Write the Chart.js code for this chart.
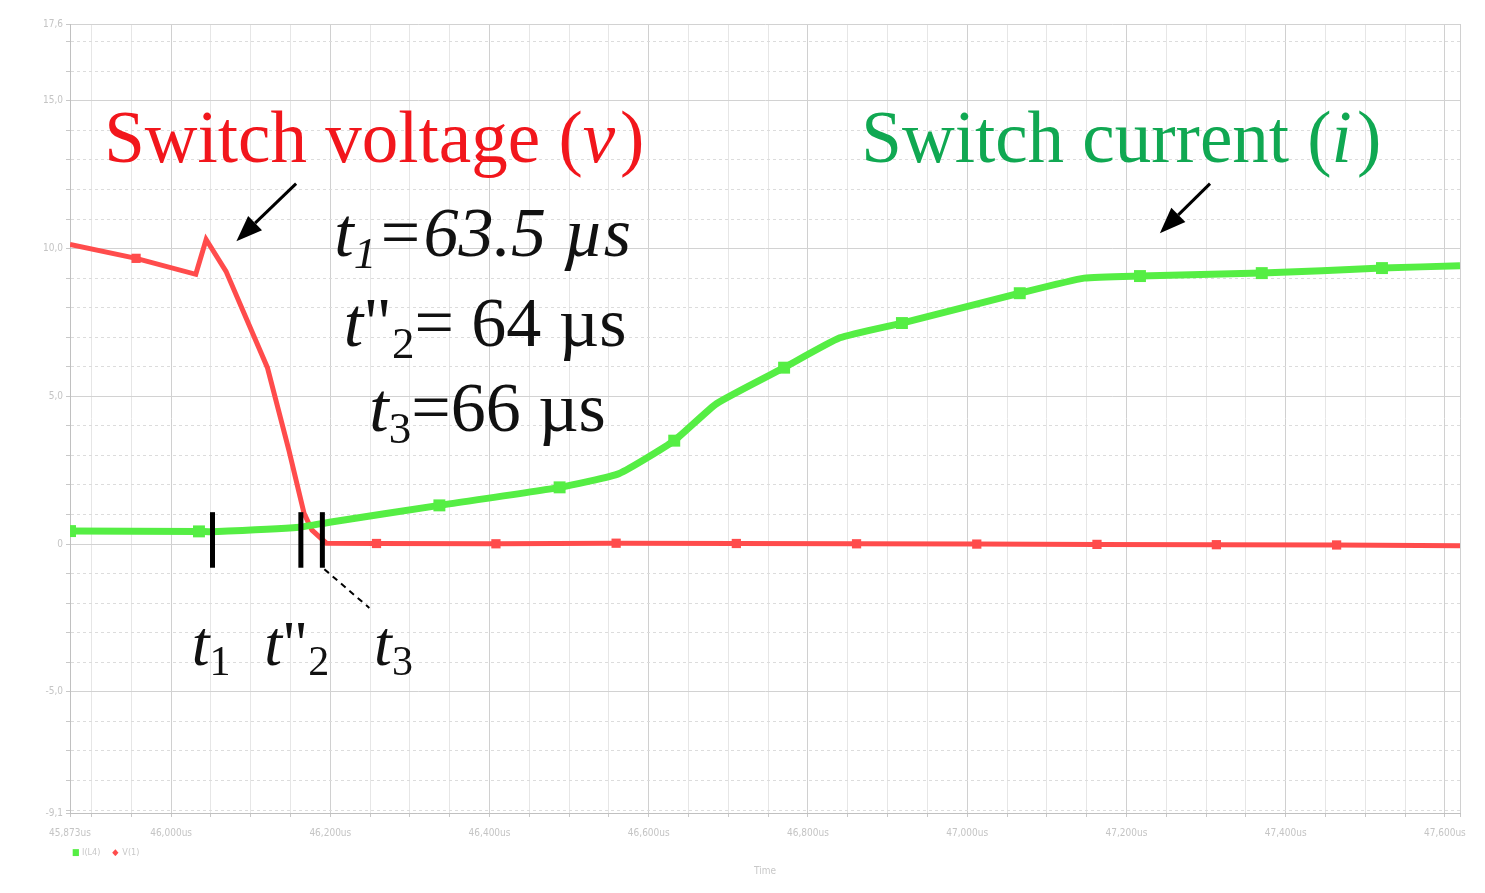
<!DOCTYPE html>
<html lang="en">
<head>
  <meta charset="UTF-8">
  <title>Switch voltage and current</title>
  <script src="https://cdn.jsdelivr.net/npm/chart.js"></script>
  <style>
    html, body { margin: 0; padding: 0; background: #fff; }
    #wrap { width: 1485px; height: 893px; }
  </style>
</head>
<body>
  <div id="wrap"><canvas id="waveChart"></canvas></div>

  <script>
    // switch voltage, time in us
    const voltTime = [45.873, 45.956, 46.031, 46.044, 46.069, 46.121, 46.148, 46.167, 46.177, 46.195,
                      46.258, 46.408, 46.559, 46.710, 46.861, 47.012, 47.163, 47.313, 47.464, 47.619];
    const voltValues = [10.14, 9.67, 9.13, 10.31, 9.23, 5.97, 3.17, 1.04, 0.47, 0.03,
                        0.02, 0.01, 0.03, 0.02, 0.01, 0.0, -0.01, -0.02, -0.03, -0.06];

    // switch current
    const curTime = [45.873, 46.035, 46.052, 46.161, 46.199, 46.337, 46.488, 46.563, 46.632, 46.685,
                     46.770, 46.840, 46.918, 47.066, 47.147, 47.217, 47.370, 47.521, 47.619];
    const curValues = [0.44, 0.43, 0.42, 0.57, 0.74, 1.31, 1.92, 2.39, 3.50, 4.75,
                       5.97, 6.98, 7.48, 8.49, 9.00, 9.07, 9.17, 9.34, 9.42];

    const seriesNames = ['I(L4)', 'V(1)'];

    const xMin = 45.873, xMax = 47.619;
    const yMin = -9.1, yMax = 17.6;
    const xTickValues = [45.873, 46.0, 46.2, 46.4, 46.6, 46.8, 47.0, 47.2, 47.4, 47.6];
    const xTickLabels = ['45,873us', '46,000us', '46,200us', '46,400us', '46,600us', '46,800us',
                         '47,000us', '47,200us', '47,400us', '47,600us'];
    const yTickValues = [-9.1, -5, 0, 5, 10, 15, 17.6];
    const yTickLabels = ['-9,1', '-5,0', '0', '5,0', '10,0', '15,0', '17,6'];

    // marked instants (us)
    const t1 = 46.052, t2 = 46.163, t3 = 46.190;

    const near = (a, b) => Math.abs(a - b) < 1e-6;
    function labelFor(vals, labels, v) {
      const i = vals.findIndex(t => near(t, v));
      return i < 0 ? '' : labels[i];
    }

    // grid positions
    const xGrid = [xMin];
    for (let k = 0; k <= 34; k++) xGrid.push(Math.round((45.9 + 0.05 * k) * 1000) / 1000);
    xGrid.push(xMax);
    const yGrid = [yMin];
    for (let v = -9; v <= 17; v++) yGrid.push(v);
    yGrid.push(yMax);

    const isMajorX = v => near(v, xMin) || near(v, xMax) || Math.abs(Math.round(v * 5) - v * 5) < 1e-6;
    const isMajorY = v => near(v, yMin) || near(v, yMax) || v % 5 === 0;

    const redMarks = new Set([1, 10, 11, 12, 13, 14, 15, 16, 17, 18]);
    const greenMarks = new Set([0, 1, 5, 6, 8, 10, 12, 13, 15, 16, 17]);

    const serif = '"Liberation Serif", "Times New Roman", serif';
    const tickFont = '"Liberation Sans Narrow", "DejaVu Sans Condensed", sans-serif';

    // text in pieces with different fonts / offsets
    function drawRuns(ctx, x, y, runs, color) {
      ctx.fillStyle = color;
      ctx.textBaseline = 'alphabetic';
      ctx.textAlign = 'left';
      runs.forEach(r => {
        ctx.font = r.f;
        ctx.fillText(r.t, x, y + (r.dy || 0));
        x += ctx.measureText(r.t).width + (r.gap || 0);
      });
    }

    function arrow(ctx, x0, y0, x1, y1) {
      const a = Math.atan2(y1 - y0, x1 - x0);
      const len = 26, w = 10;
      const bx = x1 - len * Math.cos(a), by = y1 - len * Math.sin(a);
      ctx.beginPath();
      ctx.moveTo(x0, y0);
      ctx.lineTo(bx, by);
      ctx.stroke();
      ctx.beginPath();
      ctx.moveTo(x1, y1);
      ctx.lineTo(bx + w * Math.sin(a), by - w * Math.cos(a));
      ctx.lineTo(bx - w * Math.sin(a), by + w * Math.cos(a));
      ctx.closePath();
      ctx.fill();
    }

    const notes = {
      id: 'notes',
      afterDatasetsDraw(chart) {
        const { ctx, scales: { x, y } } = chart;
        const px = v => x.getPixelForValue(v);
        const py = v => y.getPixelForValue(v);
        ctx.save();

        // time markers
        ctx.strokeStyle = '#000';
        ctx.lineWidth = 5;
        [t1, t2, t3].forEach(t => {
          ctx.beginPath();
          ctx.moveTo(px(t), py(1.08));
          ctx.lineTo(px(t), py(-0.8));
          ctx.stroke();
        });
        ctx.lineWidth = 2;
        ctx.setLineDash([6, 5]);
        ctx.beginPath();
        ctx.moveTo(px(t3) + 2, py(-0.85));
        ctx.lineTo(px(46.249), py(-2.16));
        ctx.stroke();
        ctx.setLineDash([]);

        // arrows
        ctx.fillStyle = '#000';
        ctx.lineWidth = 3;
        arrow(ctx, px(46.157), py(12.2), px(46.082), py(10.25));
        arrow(ctx, px(47.305), py(12.2), px(47.242), py(10.52));

        const big = '73px ' + serif, bigI = 'italic 73px ' + serif;
        drawRuns(ctx, px(45.916), py(12.94), [
          { t: 'Switch voltage (', f: big }, { t: 'v', f: bigI, gap: 5 }, { t: ')', f: big }
        ], '#f2161c');
        drawRuns(ctx, px(46.867), py(12.94), [
          { t: 'Switch current (', f: big }, { t: 'i', f: bigI, gap: 5 }, { t: ')', f: big }
        ], '#10a852');

        const m = '70px ' + serif, mI = 'italic 70px ' + serif;
        const sb = '45px ' + serif, sbI = 'italic 45px ' + serif;
        drawRuns(ctx, px(46.205), py(9.74), [
          { t: 't', f: mI }, { t: '1', f: sbI, dy: 12 }, { t: '=63.5 µs', f: mI }
        ], '#111');
        drawRuns(ctx, px(46.217), py(6.71), [
          { t: 't', f: mI }, { t: '"', f: m }, { t: '2', f: sb, dy: 12 }, { t: '= 64 µs', f: m }
        ], '#111');
        drawRuns(ctx, px(46.249), py(3.84), [
          { t: 't', f: mI }, { t: '3', f: sb, dy: 12 }, { t: '=66 µs', f: m }
        ], '#111');

        const b = '64px ' + serif, bI = 'italic 64px ' + serif, bs = '42px ' + serif;
        drawRuns(ctx, px(46.026), py(-4.08), [
          { t: 't', f: bI }, { t: '1', f: bs, dy: 10 }
        ], '#111');
        drawRuns(ctx, px(46.117), py(-4.08), [
          { t: 't', f: bI }, { t: '"', f: b }, { t: '2', f: bs, dy: 10 }
        ], '#111');
        drawRuns(ctx, px(46.255), py(-4.08), [
          { t: 't', f: bI }, { t: '3', f: bs, dy: 10 }
        ], '#111');

        // small legend under the axis
        ctx.font = '9px ' + tickFont;
        ctx.textBaseline = 'middle';
        let lx = chart.chartArea.left + 2;
        const ly = 853;
        chart.data.datasets.forEach(ds => {
          ctx.fillStyle = ds.borderColor;
          ctx.fillText(ds === chart.data.datasets[0] ? '■' : '◆', lx, ly);
          lx += 10;
          ctx.fillStyle = '#c8c8c8';
          ctx.fillText(ds.label, lx, ly);
          lx += ctx.measureText(ds.label).width + 12;
        });
        ctx.restore();
      }
    };

    new Chart(document.getElementById('waveChart'), {
      type: 'line',
      data: {
        datasets: [{
          label: seriesNames[0],
          data: curTime.map((t, i) => ({ x: t, y: curValues[i] })),
          borderColor: '#55ee44',
          backgroundColor: '#55ee44',
          borderWidth: 7,
          tension: 0.15,
          pointRadius: c => greenMarks.has(c.dataIndex) ? 3.5 : 0,
          pointStyle: 'rect'
        }, {
          label: seriesNames[1],
          data: voltTime.map((t, i) => ({ x: t, y: voltValues[i] })),
          borderColor: '#ff4c4c',
          backgroundColor: '#ff4c4c',
          borderWidth: 5,
          tension: 0,
          pointRadius: c => redMarks.has(c.dataIndex) ? 3 : 0,
          pointStyle: 'rect'
        }]
      },
      options: {
        responsive: true,
        maintainAspectRatio: false,
        animation: false,
        layout: { padding: { top: 24, right: 25, left: 0, bottom: 0 } },
        plugins: { legend: { display: false }, tooltip: { enabled: false } },
        scales: {
          x: {
            type: 'linear',
            min: xMin,
            max: xMax,
            afterFit: s => { s.height = 80; },
            afterBuildTicks: s => { s.ticks = xGrid.map(v => ({ value: v })); },
            ticks: {
              autoSkip: false,
              maxRotation: 0,
              padding: 10,
              color: '#c4c4c4',
              font: { family: tickFont, size: 10 },
              callback: v => labelFor(xTickValues, xTickLabels, v)
            },
            grid: {
              color: c => (c.tick && isMajorX(c.tick.value)) ? '#d0d0d0' : '#e6e6e6',
              tickLength: 4,
              tickColor: '#c8c8c8'
            },
            border: { color: '#c0c0c0' },
            title: {
              display: true,
              text: 'Time',
              color: '#c8c8c8',
              font: { family: tickFont, size: 10 },
              padding: { top: 0, bottom: 16 }
            }
          },
          y: {
            type: 'linear',
            min: yMin,
            max: yMax,
            afterFit: s => { s.width = 70; },
            afterBuildTicks: s => { s.ticks = yGrid.map(v => ({ value: v })); },
            ticks: {
              autoSkip: false,
              padding: 3,
              color: '#c4c4c4',
              font: { family: tickFont, size: 10 },
              callback: v => labelFor(yTickValues, yTickLabels, v)
            },
            grid: {
              color: c => (c.tick && isMajorY(c.tick.value)) ? '#d2d2d2' : '#dcdcdc',
              tickLength: 4,
              tickColor: '#c8c8c8'
            },
            border: {
              color: '#c0c0c0',
              dash: c => (c.tick && !isMajorY(c.tick.value)) ? [3, 3] : []
            }
          }
        }
      },
      plugins: [notes]
    });
  </script>
</body>
</html>
